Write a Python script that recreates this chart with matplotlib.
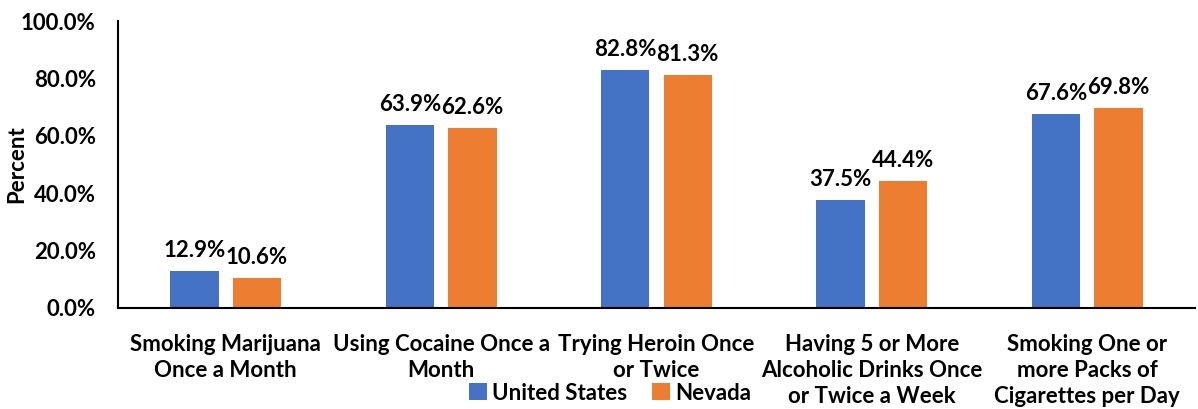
import matplotlib.pyplot as plt
import numpy as np

plt.rcParams["font.family"] = ["Lato", "DejaVu Sans"]
plt.rcParams["font.weight"] = "bold"

categories = [
    "Smoking Marijuana\nOnce a Month",
    "Using Cocaine Once a\nMonth",
    "Trying Heroin Once\nor Twice",
    "Having 5 or More\nAlcoholic Drinks Once\nor Twice a Week",
    "Smoking One or\nmore Packs of\nCigarettes per Day",
]
us = [12.9, 63.9, 82.8, 37.5, 67.6]
nevada = [10.6, 62.6, 81.3, 44.4, 69.8]

blue = "#4472C4"
orange = "#ED7D31"
fs = 16

fig = plt.figure(figsize=(11.98, 4.09), dpi=100)
ax = fig.add_axes([118 / 1198, 1 - 308 / 409, (1195 - 118) / 1198, (308 - 21) / 409])

x = np.arange(len(categories))
w = 0.225
off = 0.145
b1 = ax.bar(x - off, us, w, color=blue, label="United States")
b2 = ax.bar(x + off, nevada, w, color=orange, label="Nevada")

for bars, vals in ((b1, us), (b2, nevada)):
    for b, v in zip(bars, vals):
        ax.text(b.get_x() + b.get_width() / 2, v + 3.5, f"{v:.1f}%",
                ha="center", va="bottom", fontsize=fs, fontweight="bold")

ax.set_xlim(-0.5, len(categories) - 0.5)
ax.set_ylim(0, 100)
ax.set_yticks(np.arange(0, 101, 20))
ax.set_yticklabels([f"{t:.1f}%" for t in np.arange(0, 101, 20)], fontsize=fs)
ax.set_xticks(x)
ax.set_xticklabels(categories, fontsize=fs, linespacing=1.28)
ax.tick_params(axis="y", length=0, pad=16)
ax.tick_params(axis="x", length=0, pad=19)
ax.set_ylabel("Percent", fontsize=fs, fontweight="bold")
ax.yaxis.set_label_coords(-0.084, 0.5)

for s in ("top", "right"):
    ax.spines[s].set_visible(False)
for s in ("left", "bottom"):
    ax.spines[s].set_linewidth(1.5)
    ax.spines[s].set_color("black")

fig.legend(handles=[b1, b2], loc="center", bbox_to_anchor=(610 / 1198, 1 - 393 / 409),
           ncol=2, frameon=False, fontsize=fs, handlelength=0.8, handleheight=0.8,
           columnspacing=1.1, handletextpad=0.25, borderaxespad=0, borderpad=0)

fig.savefig("out.png", dpi=100)
